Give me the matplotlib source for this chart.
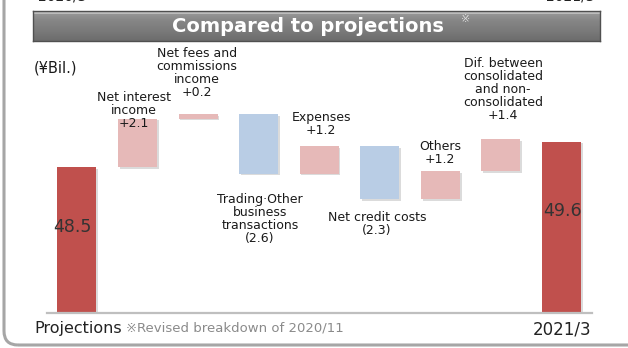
import numpy as np
import matplotlib
matplotlib.use("Agg")
import matplotlib.pyplot as plt
from matplotlib.patches import FancyBboxPatch
import matplotlib.patheffects as pe

# Waterfall data (¥ billion)
start_label = "Projections"
end_label = "2021/3"
start_value = 48.5
end_value = 49.6
step_labels = [
    "Net interest\nincome\n+2.1",
    "Net fees and\ncommissions\nincome\n+0.2",
    "Trading\u00b7Other\nbusiness\ntransactions\n(2.6)",
    "Expenses\n+1.2",
    "Net credit costs\n(2.3)",
    "Others\n+1.2",
    "Dif. between\nconsolidated\nand non-\nconsolidated\n+1.4",
]
step_values = [2.1, 0.2, -2.6, 1.2, -2.3, 1.2, 1.4]

W, H = 628, 348
fig = plt.figure(figsize=(W / 100, H / 100), dpi=100)
fig.patch.set_facecolor("white")


def fx(px):
    return px / W


def fy(py):
    return 1 - py / H


# outer rounded frame (pixel coordinates), open to the top and right
frame = FancyBboxPatch((4, 3), 2000, 1000, boxstyle="round,pad=0,rounding_size=14",
                       transform=None, fill=False, ec="#a6a6a6", lw=2.2)
fig.patches.append(frame)

# period labels running off the top edge
fig.text(fx(62), fy(-3), "2020/3", ha="center", va="center", fontsize=10, color="#222222")
fig.text(fx(570), fy(-3), "2021/3", ha="center", va="center", fontsize=10, color="#222222")

# title banner with vertical gradient
bax = fig.add_axes([fx(33), fy(41), fx(600 - 33), (41 - 11) / H])
grad = np.linspace(0, 1, 64).reshape(-1, 1)
bax.imshow(grad, aspect="auto", cmap=matplotlib.colors.LinearSegmentedColormap.from_list(
    "band", ["#9c9c9c", "#858585", "#7a7a7a", "#6c6c6c"]), extent=[0, 1, 0, 1], origin="upper")
bax.set_xlim(0, 1)
bax.set_ylim(0, 1)
bax.set_xticks([])
bax.set_yticks([])
for s in bax.spines.values():
    s.set_color("#505050")
    s.set_linewidth(1)
bax.plot([0, 1], [0.95, 0.95], color="#c4c4c4", lw=1.2)
bax.text((308 - 33) / 567, 0.47, "Compared to projections", ha="center", va="center",
         fontsize=14, fontweight="bold", color="white", transform=bax.transAxes)
bax.text((466 - 33) / 567, 0.72, "\u203b", ha="center", va="center", fontsize=8,
         color="#dddddd", transform=bax.transAxes)

# main waterfall axes
ax = fig.add_axes([fx(45), fy(313), fx(592 - 45), (313 - 50) / H])
ax.set_facecolor("none")
y0 = 42.12
ax.set_ylim(y0, y0 + 263 / 22.9)
ax.set_xlim(-0.528, 8.504)
ax.axis("off")

bw = 0.644
total_col = "#C0504D"
pos_col = "#E6B9B8"
neg_col = "#B9CDE5"
shadow = [pe.SimplePatchShadow(offset=(1.2, -1.2), shadow_rgbFace="#999999", alpha=0.35), pe.Normal()]

n = len(step_values)
ax.bar(0, start_value - y0, bottom=y0, width=bw, color=total_col, path_effects=shadow)
ax.bar(n + 1, end_value - y0, bottom=y0, width=bw, color=total_col, path_effects=shadow)

level = start_value
for i, v in enumerate(step_values):
    lo, hi = (level, level + v) if v >= 0 else (level + v, level)
    ax.bar(i + 1, hi - lo, bottom=lo, width=bw, color=pos_col if v >= 0 else neg_col,
           path_effects=shadow)
    level += v

ax.plot([-0.528 + 0.035, 8.504], [y0, y0], color="#bfbfbf", lw=1.6, clip_on=False)

# value labels on the total bars
ax.text(0 - 0.08, y0 + (313 - 227) / 22.9, f"{start_value}", ha="center", va="center",
        fontsize=12.5, color="#333333")
ax.text(n + 1 + 0.02, y0 + (313 - 211) / 22.9, f"{end_value}", ha="center", va="center",
        fontsize=12.5, color="#333333")

# step labels: (x pixel centre, y pixel of the first line)
label_pos = [(134, 98), (197, 54), (260, 200), (321, 118), (377, 218), (440, 147), (503, 64)]
for (px, py), txt in zip(label_pos, step_labels):
    fig.text(fx(px), fy(py - 7), txt, ha="center", va="top", fontsize=9,
             color="#1a1a1a", linespacing=1.0)

fig.text(fx(34), fy(68), "(\u00a5Bil.)", ha="left", va="center", fontsize=10.5, color="#1a1a1a")

# bottom labels
fig.text(fx(34), fy(329), start_label, ha="left", va="center", fontsize=11.5, color="#222222")
fig.text(fx(126), fy(328), "\u203bRevised breakdown of 2020/11", ha="left", va="center",
         fontsize=9.5, color="#8a8a8a")
fig.text(fx(591), fy(330), end_label, ha="right", va="center", fontsize=12, color="#222222")

fig.savefig("out.png", dpi=100, facecolor="white")
